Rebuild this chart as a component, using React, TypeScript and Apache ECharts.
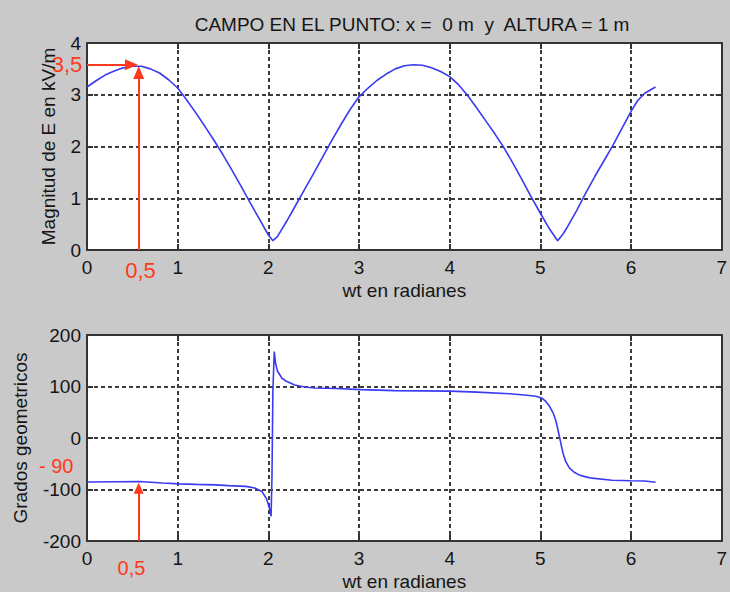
import React, { useEffect, useRef } from "react";
import * as echarts from "echarts";

const titleText = "CAMPO EN EL PUNTO: x =  0 m  y  ALTURA = 1 m";
const xName = "wt en radianes";
const yNameTop = "Magnitud de E en kV/m";
const yNameBottom = "Grados geometricos";

const magX = [0, 0.1, 0.2, 0.3, 0.4, 0.5, 0.6, 0.7, 0.8, 0.9, 1.0, 1.1, 1.2, 1.3, 1.4, 1.5, 1.6, 1.7, 1.8, 1.9, 2.0, 2.05, 2.1, 2.2, 2.3, 2.4, 2.5, 2.6, 2.7, 2.8, 2.9, 3.0, 3.1, 3.2, 3.3, 3.4, 3.5, 3.6, 3.7, 3.8, 3.9, 4.0, 4.1, 4.2, 4.3, 4.4, 4.5, 4.6, 4.7, 4.8, 4.9, 5.0, 5.1, 5.19, 5.25, 5.3, 5.4, 5.5, 5.6, 5.7, 5.8, 5.9, 6.0, 6.07, 6.15, 6.27];
const magY = [3.15, 3.27, 3.38, 3.46, 3.52, 3.55, 3.55, 3.5, 3.42, 3.29, 3.13, 2.9, 2.65, 2.39, 2.12, 1.84, 1.54, 1.23, 0.91, 0.6, 0.29, 0.18, 0.26, 0.55, 0.86, 1.17, 1.48, 1.8, 2.12, 2.42, 2.71, 2.96, 3.13, 3.28, 3.4, 3.5, 3.56, 3.58, 3.57, 3.52, 3.45, 3.35, 3.19, 2.98, 2.74, 2.49, 2.24, 1.97, 1.67, 1.35, 1.02, 0.71, 0.41, 0.18, 0.31, 0.45, 0.76, 1.1, 1.42, 1.72, 2.02, 2.35, 2.68, 2.88, 3.03, 3.15];

const phX = [0, 0.3, 0.58, 0.83, 1.02, 1.2, 1.42, 1.56, 1.75, 1.85, 1.93, 1.98, 2.01, 2.03, 2.04, 2.05, 2.065, 2.08, 2.1, 2.15, 2.2, 2.29, 2.4, 2.51, 2.75, 3.02, 3.39, 3.7, 4.0, 4.3, 4.66, 4.85, 4.95, 5.02, 5.06, 5.1, 5.14, 5.17, 5.19, 5.21, 5.23, 5.25, 5.28, 5.32, 5.37, 5.43, 5.5, 5.57, 5.79, 6.0, 6.15, 6.27];
const phY = [-85.5, -85, -84.5, -87.5, -89, -90, -91, -92.5, -94, -97, -104, -118, -135, -152, -75, 90, 168, 145, 130, 116, 110, 103, 99, 97, 96, 94, 92, 91.5, 91, 89, 86, 83, 81, 77, 71, 62, 49, 34, 19, 3, -14, -30, -46, -58, -66, -72, -75.5, -78, -82, -83, -83.5, -86];

const xTicks = { min: 0, max: 7, interval: 1 };
const topTicks = { min: 0, max: 4, interval: 1 };
const bottomTicks = { min: -200, max: 200, interval: 100 };

// annotation values (data coordinates)
const peakX = 0.57;
const peakMag = 3.58;
const peakPhase = -87.5;
const annTop = [
  { text: "3,5", x: -0.22, y: 3.58 },
  { text: "0,5", x: 0.59, y: -0.39 },
];
const annBottom = [
  { text: "- 90", x: -0.34, y: -55 },
  { text: "0,5", x: 0.49, y: -253 },
];

const RED = "#ff3a1c";
const BLUE = "#3a3af2";
const FRAME = "#333333";
const TXT = "#151515";
const FONT = "Liberation Sans, Arial, sans-serif";

export default function App() {
  const ref = useRef<HTMLDivElement>(null);
  useEffect(() => {
    document.body.style.margin = "0";
    if (!ref.current) return;
    const chart = echarts.init(ref.current, undefined, { renderer: "svg" });
    const grids = [
      { left: 87, top: 43, width: 640, height: 207 },
      { left: 87, top: 335, width: 640, height: 210 },
    ];
    const splitLine = {
      show: true,
      lineStyle: { color: "#3c3c3c", width: 2, type: [4, 3] as any },
    };
    const mainX = (gi: number) => ({
      type: "value",
      gridIndex: gi,
      position: "bottom",
      ...xTicks,
      name: xName,
      nameLocation: "middle",
      nameGap: 31,
      nameTextStyle: { fontSize: 19, color: TXT, fontFamily: FONT },
      axisLine: { show: true, onZero: false, lineStyle: { color: FRAME, width: 2 } },
      axisTick: { show: true, inside: true, length: 6, lineStyle: { color: FRAME, width: 2 } },
      axisLabel: { fontSize: 19, color: TXT, fontFamily: FONT, margin: 8 },
      splitLine,
    });
    const mirrorX = (gi: number) => ({
      type: "value",
      gridIndex: gi,
      position: "top",
      ...xTicks,
      axisLine: { show: true, onZero: false, lineStyle: { color: FRAME, width: 2 } },
      axisTick: { show: true, inside: true, length: 6, lineStyle: { color: FRAME, width: 2 } },
      axisLabel: { show: false },
      splitLine: { show: false },
    });
    const mainY = (gi: number, t: any, name: string, gap: number) => ({
      type: "value",
      gridIndex: gi,
      position: "left",
      ...t,
      name,
      nameLocation: "middle",
      nameGap: gap,
      nameTextStyle: { fontSize: 19, color: TXT, fontFamily: FONT },
      axisLine: { show: true, onZero: false, lineStyle: { color: FRAME, width: 2 } },
      axisTick: { show: true, inside: true, length: 6, lineStyle: { color: FRAME, width: 2 } },
      axisLabel: { fontSize: 19, color: TXT, fontFamily: FONT, margin: 6 },
      splitLine,
    });
    const mirrorY = (gi: number, t: any) => ({
      type: "value",
      gridIndex: gi,
      position: "right",
      ...t,
      axisLine: { show: true, onZero: false, lineStyle: { color: FRAME, width: 2 } },
      axisTick: { show: true, inside: true, length: 6, lineStyle: { color: FRAME, width: 2 } },
      axisLabel: { show: false },
      splitLine: { show: false },
    });
    const markLineBase = {
      silent: true,
      symbol: ["none", "triangle"],
      label: { show: false },
      emphasis: { disabled: true },
      lineStyle: { color: RED, width: 2, type: "solid" },
      itemStyle: { color: RED },
    };
    chart.setOption({
      animation: false,
      backgroundColor: "#c9c9c9",
      title: {
        text: titleText,
        left: 407,
        textAlign: "center",
        top: 10,
        textStyle: { fontSize: 19, fontWeight: "normal", color: TXT, fontFamily: FONT },
      },
      grid: grids.map((g) => ({ ...g, show: true, backgroundColor: "#ffffff", borderWidth: 0 })),
      xAxis: [mainX(0), mainX(1), mirrorX(0), mirrorX(1)],
      yAxis: [
        mainY(0, topTicks, yNameTop, 29),
        mainY(1, bottomTicks, yNameBottom, 57),
        mirrorY(0, topTicks),
        mirrorY(1, bottomTicks),
      ],
      series: [
        {
          type: "line",
          xAxisIndex: 0,
          yAxisIndex: 0,
          data: magX.map((x, i) => [x, magY[i]]),
          showSymbol: false,
          symbol: "none",
          lineStyle: { color: BLUE, width: 1.6 },
          markLine: {
            ...markLineBase,
            symbolSize: [11, 13],
            data: [
              [{ coord: [0, peakMag] }, { coord: [0.49, peakMag] }],
              [{ coord: [peakX, 0] }, { coord: [peakX, 3.43] }],
            ],
          },
        },
        {
          type: "line",
          xAxisIndex: 1,
          yAxisIndex: 1,
          data: phX.map((x, i) => [x, phY[i]]),
          showSymbol: false,
          symbol: "none",
          lineStyle: { color: BLUE, width: 1.6 },
          markLine: {
            ...markLineBase,
            symbolSize: [10, 11],
            data: [[{ coord: [peakX, -200] }, { coord: [peakX, peakPhase - 10] }]],
          },
        },
      ],
    });
    const texts: any[] = [];
    annTop.forEach((a) => {
      const p = chart.convertToPixel({ gridIndex: 0 } as any, [a.x, a.y]) as number[];
      texts.push({
        type: "text",
        x: p[0],
        y: p[1],
        style: { text: a.text, fill: RED, fontSize: 22, fontFamily: FONT, align: "center", verticalAlign: "middle" },
      });
    });
    annBottom.forEach((a) => {
      const p = chart.convertToPixel({ gridIndex: 1 } as any, [a.x, a.y]) as number[];
      texts.push({
        type: "text",
        x: p[0],
        y: p[1],
        style: { text: a.text, fill: RED, fontSize: 20, fontFamily: FONT, align: "center", verticalAlign: "middle" },
      });
    });
    chart.setOption({ graphic: texts });
    return () => chart.dispose();
  }, []);
  return <div ref={ref} style={{ width: 730, height: 592 }} />;
}
